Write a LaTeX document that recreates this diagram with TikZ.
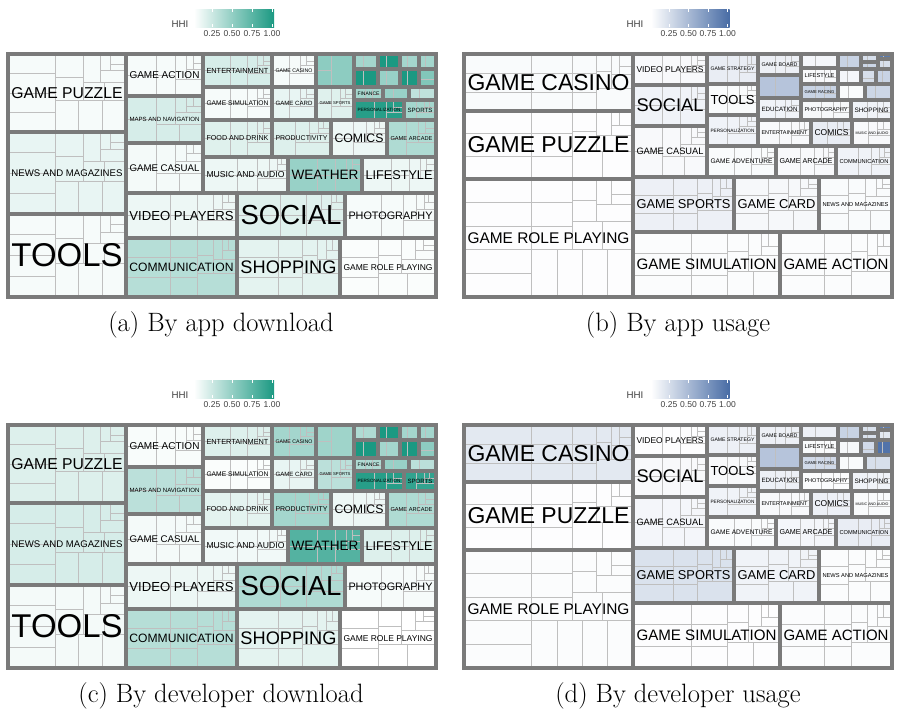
\documentclass[tikz,border=0pt]{standalone}
\usepackage{fontspec}
\usepackage{graphicx}
\newfontfamily\lblfont{Liberation Sans}
\definecolor{hhiA}{RGB}{27,153,130}
\definecolor{hhiB}{RGB}{72,108,165}
\tikzset{
  subline/.style={draw=black!25,line width=0.65pt},
  catline/.style={draw=black!52,line width=2.5pt},
  lbl/.style={font=\lblfont,inner sep=0pt,text=black},
  keytxt/.style={font=\lblfont\fontsize{7.3}{8}\selectfont,text=black!75,inner sep=0pt},
  ticktxt/.style={font=\lblfont\fontsize{6.4}{7}\selectfont,text=black!75,inner sep=0pt},
  captxt/.style={font=\fontsize{19.9}{23}\selectfont,inner sep=0pt}
}
\newcommand\spiral[5]{%
  \pgfmathsetmacro\spw{#3-#1}%
  \pgfmathsetmacro\sph{#4-#2}%
  \pgfmathtruncatemacro\spok{and(or(\spw>11,\sph>11),#5>0)}%
  \ifnum\spok=1
    \ifdim\spw pt>\sph pt
      \pgfmathsetmacro\spx{#1+0.4*\spw}%
      \pgfmathtruncatemacro\spk{max(1,round(\sph/22))}%
      \draw[subline] (\spx,#2) -- (\spx,#4);
      \ifnum\spk>1 \foreach \q in {2,...,\spk}{\draw[subline] (#1,{#2+(\q-1)*\sph/\spk}) -- (\spx,{#2+(\q-1)*\sph/\spk});}\fi
      \edef\spnext{\noexpand\spiral{\spx}{#2}{#3}{#4}{\the\numexpr#5-1\relax}}%
    \else
      \pgfmathsetmacro\spy{#4-0.4*\sph}%
      \pgfmathtruncatemacro\spk{max(1,round(\spw/28))}%
      \draw[subline] (#1,\spy) -- (#3,\spy);
      \ifnum\spk>1 \foreach \q in {2,...,\spk}{\draw[subline] ({#1+(\q-1)*\spw/\spk},\spy) -- ({#1+(\q-1)*\spw/\spk},#4);}\fi
      \edef\spnext{\noexpand\spiral{#1}{#2}{#3}{\spy}{\the\numexpr#5-1\relax}}%
    \fi
    \spnext
  \fi}
\newcommand\panel[4]{%
  \foreach \xa/\ya/\xb/\yb/\hh/\lab in #1 {\fill[#3!\hh] (\xa,\ya) rectangle (\xb,\yb); \spiral{\xa}{\ya}{\xb}{\yb}{8}}
  \foreach \xa/\ya/\xb/\yb/\hh in #2 {\fill[#3!\hh] (\xa,\ya) rectangle (\xb,\yb); \spiral{\xa}{\ya}{\xb}{\yb}{1}}
  \foreach \xa/\ya/\xb/\yb/\hh/\lab in #1 {\draw[catline] (\xa,\ya) rectangle (\xb,\yb);}
  \foreach \xa/\ya/\xb/\yb/\hh in #2 {\draw[catline] (\xa,\ya) rectangle (\xb,\yb);}
  \foreach \xa/\ya/\xb/\yb/\hh/\lab [count=\i] in #1 {%
    \pgfmathsetmacro\lw{(\xb-\xa-7)*0.75}%
    \node[lbl] (#4\i) at ({(\xa+\xb)/2},{(\ya+\yb)/2}) {\resizebox{\lw pt}{!}{\lab}};}
}
\newcommand\hhikey[6]{%
  \node[keytxt] (#6hhi) at (#1,24.5) {HHI};
  \shade[left color=white,right color=#5] (#2,9) rectangle ({#3+3*#4+2},27);
  \foreach \k [count=\j from 0] in {0.25,0.50,0.75,1.00}{%
    \draw[white,line width=0.6pt] ({#3+\j*#4},9) -- ++(0,3) ({#3+\j*#4},27) -- ++(0,-3);
    \node[ticktxt] (#6t\j) at ({#3+\j*#4},34) {\k};}
}
\def\cellsA{8/54/126/132/4/GAME PUZZLE, 8/132/126/214/10/NEWS AND MAGAZINES, 8/214/126/297/4/TOOLS,
  126/54/203/96/4/GAME ACTION, 126/96/203/143/18/MAPS AND NAVIGATION, 126/143/203/193/5/GAME CASUAL,
  203/54/272/87/18/ENTERTAINMENT, 272/54/316/87/4/GAME CASINO, 203/87/272/120/4/GAME SIMULATION,
  272/87/316/120/10/GAME CARD, 316/87/354/120/14/GAME SPORTS, 354/87/383/100/40/FINANCE,
  354/100/404/120/95/PERSONALIZATION, 404/100/436/120/40/SPORTS, 203/120/272/157/14/FOOD AND DRINK,
  272/120/331/157/15/PRODUCTIVITY, 331/120/387/157/8/COMICS, 387/120/436/157/35/GAME ARCADE,
  203/157/288/193/8/MUSIC AND AUDIO, 288/157/362/193/45/WEATHER, 362/157/436/193/8/LIFESTYLE,
  126/193/237/238/8/VIDEO PLAYERS, 237/193/345/238/14/SOCIAL, 345/193/436/238/4/PHOTOGRAPHY,
  126/238/237/297/32/COMMUNICATION, 237/238/340/297/12/SHOPPING, 340/238/436/297/2/GAME ROLE PLAYING}
\def\restA{316/54/354/87/50, 354/54/378/69/40, 378/54/400/69/100, 400/54/419/69/40, 419/54/436/69/40,
  354/69/378/87/100, 378/69/400/87/45, 400/69/419/87/100, 419/69/436/87/55, 383/87/409/100/45, 409/87/436/100/28}
\def\cellsC{8/54/126/132/15/GAME PUZZLE, 8/132/126/214/18/NEWS AND MAGAZINES, 8/214/126/297/5/TOOLS,
  126/54/203/96/3/GAME ACTION, 126/96/203/143/30/MAPS AND NAVIGATION, 126/143/203/193/5/GAME CASUAL,
  203/54/272/87/15/ENTERTAINMENT, 272/54/316/87/40/GAME CASINO, 203/87/272/120/2/GAME SIMULATION,
  272/87/316/120/10/GAME CARD, 316/87/354/120/30/GAME SPORTS, 354/87/383/100/35/FINANCE,
  354/100/404/120/95/PERSONALIZATION, 404/100/436/120/90/SPORTS, 203/120/272/157/12/FOOD AND DRINK,
  272/120/331/157/40/PRODUCTIVITY, 331/120/387/157/8/COMICS, 387/120/436/157/35/GAME ARCADE,
  203/157/288/193/6/MUSIC AND AUDIO, 288/157/362/193/75/WEATHER, 362/157/436/193/15/LIFESTYLE,
  126/193/237/238/8/VIDEO PLAYERS, 237/193/345/238/35/SOCIAL, 345/193/436/238/4/PHOTOGRAPHY,
  126/238/237/297/32/COMMUNICATION, 237/238/340/297/12/SHOPPING, 340/238/436/297/0/GAME ROLE PLAYING}
\def\restC{316/54/354/87/42, 354/54/378/69/35, 378/54/400/69/100, 400/54/419/69/40, 419/54/436/69/40,
  354/69/378/87/100, 378/69/400/87/40, 400/69/419/87/100, 419/69/436/87/50, 383/87/409/100/45, 409/87/436/100/30}
\def\cellsB{464/54/633/111/3/GAME CASINO, 464/111/633/179/1/GAME PUZZLE, 464/179/633/297/1/GAME ROLE PLAYING,
  633/54/707/85/4/VIDEO PLAYERS, 633/85/707/126/8/SOCIAL, 633/126/707/177/4/GAME CASUAL,
  707/54/758/84/12/GAME STRATEGY, 707/84/758/115/3/TOOLS, 707/115/758/146/8/PERSONALIZATION,
  758/54/801/75/10/GAME BOARD, 758/98/801/120/8/EDUCATION, 801/68/838/84/4/LIFESTYLE,
  801/84/838/100/30/GAME RACING, 801/100/851/120/5/PHOTOGRAPHY, 851/100/892/120/8/SHOPPING,
  758/120/811/146/4/ENTERTAINMENT, 811/120/852/146/12/COMICS, 852/120/892/146/4/MUSIC AND AUDIO,
  707/146/776/177/3/GAME ADVENTURE, 776/146/836/177/4/GAME ARCADE, 836/146/892/177/8/COMMUNICATION,
  633/177/734/232/10/GAME SPORTS, 734/177/819/232/5/GAME CARD, 819/177/892/232/3/NEWS AND MAGAZINES,
  633/232/780/297/2/GAME SIMULATION, 780/232/892/297/2/GAME ACTION}
\def\restB{758/75/801/98/40, 801/54/838/68/6, 838/54/861/69/30, 861/54/878/62/22, 861/62/878/69/28,
  878/54/892/59/90, 878/59/892/69/22, 838/69/861/84/6, 861/69/876/84/22, 876/69/892/84/30,
  838/84/865/100/3, 865/84/892/100/28}
\def\cellsD{464/54/633/111/15/GAME CASINO, 464/111/633/179/1/GAME PUZZLE, 464/179/633/297/2/GAME ROLE PLAYING,
  633/54/707/85/1/VIDEO PLAYERS, 633/85/707/126/4/SOCIAL, 633/126/707/177/6/GAME CASUAL,
  707/54/758/84/10/GAME STRATEGY, 707/84/758/115/4/TOOLS, 707/115/758/146/8/PERSONALIZATION,
  758/54/801/75/10/GAME BOARD, 758/98/801/120/10/EDUCATION, 801/68/838/84/3/LIFESTYLE,
  801/84/838/100/25/GAME RACING, 801/100/851/120/2/PHOTOGRAPHY, 851/100/892/120/8/SHOPPING,
  758/120/811/146/4/ENTERTAINMENT, 811/120/852/146/10/COMICS, 852/120/892/146/3/MUSIC AND AUDIO,
  707/146/776/177/3/GAME ADVENTURE, 776/146/836/177/6/GAME ARCADE, 836/146/892/177/12/COMMUNICATION,
  633/177/734/232/20/GAME SPORTS, 734/177/819/232/8/GAME CARD, 819/177/892/232/2/NEWS AND MAGAZINES,
  633/232/780/297/1/GAME SIMULATION, 780/232/892/297/2/GAME ACTION}
\def\restD{758/75/801/98/40, 801/54/838/68/10, 838/54/861/69/30, 861/54/878/62/20, 861/62/878/69/20,
  878/54/892/59/85, 878/59/892/69/15, 838/69/861/84/5, 861/69/876/84/25, 876/69/892/84/95,
  838/84/865/100/3, 865/84/892/100/22}
\begin{document}
\begin{tikzpicture}[x=0.75pt,y=-0.75pt]
\useasboundingbox (0,0) rectangle (899,719);
\panel{\cellsA}{\restA}{hhiA}{a}
\hhikey{180}{194}{212}{20}{hhiA}{a}
\node[captxt,anchor=base] (capa) at (221,331) {(a) By app download};
\panel{\cellsB}{\restB}{hhiB}{b}
\hhikey{635}{651}{669}{19.5}{hhiB}{b}
\node[captxt,anchor=base] (capb) at (678,331) {(b) By app usage};
\begin{scope}[shift={(0,371)}]
\panel{\cellsC}{\restC}{hhiA}{c}
\hhikey{180}{194}{212}{20}{hhiA}{c}
\node[captxt,anchor=base] (capc) at (221,331) {(c) By developer download};
\panel{\cellsD}{\restD}{hhiB}{d}
\hhikey{635}{651}{669}{19.5}{hhiB}{d}
\node[captxt,anchor=base] (capd) at (678,331) {(d) By developer usage};
\end{scope}
\end{tikzpicture}
\end{document}
